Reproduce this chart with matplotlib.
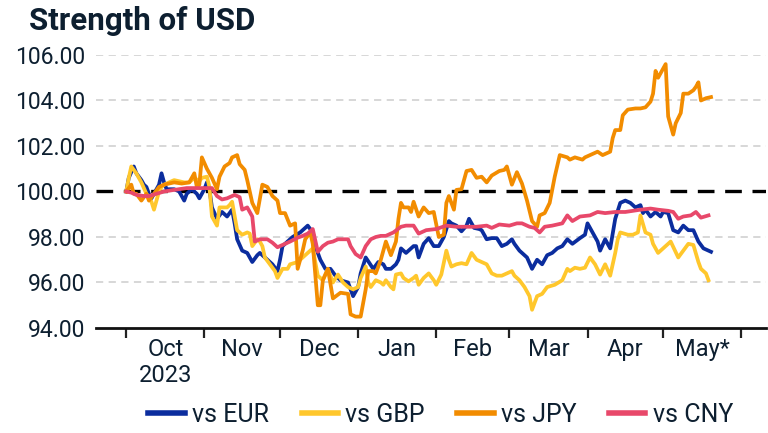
import matplotlib
matplotlib.use("Agg")
import matplotlib.pyplot as plt
import pandas as pd

plt.rcParams['font.family'] = ['Roboto', 'DejaVu Sans']

START = "2023-10-01"

# day offsets from START and index values (100 = start)
eur_days = [0, 1, 3, 4, 6, 7, 8, 9, 10, 11, 13, 14, 15, 16, 19, 21, 23, 24, 26, 28, 29, 31, 32, 33, 34, 36, 38, 40,
            42, 43, 44, 46, 48, 50, 52, 53, 55, 56, 58, 60, 61, 62, 64, 66, 69, 71, 72, 74, 75, 77, 79, 81, 83, 85,
            88, 90, 92, 93, 95, 98, 100, 102, 103, 105, 107, 108, 109, 111, 112, 114, 115, 116, 118, 120, 122, 124,
            126, 128, 129, 131, 133, 135, 136, 138, 140, 141, 143, 145, 147, 149, 151, 153, 154, 156, 159, 161, 163,
            165, 167, 169, 171, 173, 175, 177, 180, 182, 183, 185, 187, 188, 190, 192, 194, 196, 198, 200, 202, 204,
            205, 206, 208, 210, 212, 213, 215, 217, 219, 221, 223, 225, 227, 229, 232]
eur_vals = [100.0, 100.6, 101.1, 100.8, 100.5, 100.3, 100.2, 99.9, 99.7, 99.9, 100.3, 100.8, 100.4, 100.1, 100.1,
            100.0, 99.6, 99.9, 100.1, 99.9, 99.7, 100.1, 100.4, 100.1, 99.3, 98.8, 99.1, 98.9,
            99.2, 98.6, 97.9, 97.4, 97.3, 96.9, 97.2, 97.3, 97.1, 97.0, 96.8, 96.5, 97.0, 97.6, 97.8, 98.0, 98.2,
            98.4, 98.5, 98.2, 97.6, 97.0, 96.6, 96.6, 96.3, 96.1,
            96.0, 95.4, 95.8, 96.4, 97.1, 96.6, 96.9, 96.8, 96.6, 96.6, 96.8, 97.0, 97.5, 97.3, 97.4, 97.6, 97.6,
            97.1, 97.7, 97.95, 97.6, 97.6,
            98.0, 98.7, 98.6, 98.5, 98.25, 98.5, 98.8, 98.4, 98.35, 98.3, 97.9, 97.95, 97.95, 97.6, 97.7, 97.9, 97.7,
            97.4, 97.1, 96.6, 97.0,
            96.8, 97.2, 97.3, 97.5, 97.6, 97.9, 97.7, 97.95, 98.1, 98.6, 98.2, 97.8, 97.4, 97.9, 97.5, 98.8, 99.5,
            99.6, 99.5, 99.3, 99.4,
            99.05, 99.2, 98.9, 99.1, 98.9, 99.1, 99.05, 98.3, 98.2, 98.5, 98.3, 98.3, 97.8, 97.5, 97.35]

gbp_days = [0, 1, 2, 4, 6, 8, 10, 11, 13, 14, 15, 17, 19, 21, 23, 25, 26, 27, 29, 30, 32, 33, 34, 36, 37, 39, 40,
            41, 42, 44, 46, 48, 49, 50, 52, 53, 54, 55, 57, 59, 60, 62, 64, 65, 68, 70, 72, 73, 74, 76, 78, 80, 82,
            84, 86, 88, 90, 92, 93, 95, 96, 97, 99, 101, 102, 103, 105, 106, 107, 109, 110, 112, 114, 115, 116, 118,
            120, 122, 123, 125, 127, 128, 129, 131, 133, 135, 137, 139, 141, 143, 145, 147, 149, 151, 153, 154, 156,
            158, 160, 161, 163, 165, 167, 170, 173, 175, 176, 178, 180, 182, 184, 186, 188, 190, 192, 194, 195, 196,
            199, 201, 203, 204, 206, 208, 209, 211, 214, 216, 219, 221, 223, 225, 227, 228, 230, 231]
gbp_vals = [100.0, 100.6, 101.1, 100.8, 100.4, 99.9, 99.55, 99.2, 100.0, 100.2, 100.3, 100.4, 100.5, 100.45, 100.4,
            100.4, 100.5, 100.6, 100.45, 100.6, 100.65, 100.2, 98.9, 98.5, 99.3, 99.3, 99.3,
            99.4, 99.55, 98.3, 98.1, 98.2, 98.15, 97.6, 97.9, 97.8, 97.6, 97.1, 96.8, 96.5, 96.2, 96.6, 96.6, 96.8,
            96.9, 97.1, 97.3, 97.4, 97.5, 96.3, 96.1, 96.6, 96.0,
            96.35, 96.0, 95.8, 95.7, 95.8, 96.2, 96.7, 96.0, 95.8, 96.1, 96.0, 95.9, 96.1, 95.8, 95.7, 96.35, 96.4,
            96.2, 96.05, 96.2, 96.3, 95.9, 96.2,
            96.4, 96.1, 95.9, 96.35, 97.4, 97.0, 96.7, 96.8, 96.85, 96.8, 97.3, 97.0, 96.9, 96.8, 96.4, 96.3, 96.3,
            96.4, 96.5, 96.3, 96.1,
            95.8, 95.4, 94.8, 95.4, 95.5, 95.8, 95.9, 96.1, 96.6, 96.5, 96.65, 96.6, 96.65, 97.1, 96.8, 96.35, 96.8,
            96.3, 97.3, 97.9, 98.2,
            98.1, 98.1, 98.2, 98.95, 98.2, 98.1, 97.7, 97.3, 97.6, 97.8, 97.1, 97.4, 97.7, 97.65, 96.9, 96.6, 96.4,
            96.1]

jpy_days = [0, 2, 3, 4, 6, 8, 9, 11, 13, 15, 19, 22, 25, 27, 28, 29, 30, 32, 34, 36, 37, 39, 41, 42, 44, 45, 47,
            48, 50, 52, 54, 56, 58, 60, 61, 63, 65, 67, 68, 70, 71, 73, 74, 76, 77, 78, 80, 82, 85, 88, 89, 91, 93,
            95, 96, 98, 99, 101, 103, 105, 107, 108, 109, 110, 112, 113, 114, 116, 118, 120, 122, 124, 126, 127, 128,
            130, 131, 133, 135, 137, 139, 141, 143, 145, 148, 150, 151, 153, 155, 157, 159, 161, 163, 164, 166, 168,
            170, 172, 175, 176, 178, 181, 182, 184, 187, 189, 192, 193, 194, 196, 197, 199, 202, 204, 206, 208, 209,
            210, 211, 213, 214, 215, 217, 218, 220, 221, 223, 225, 226, 227, 228, 230, 232]
jpy_vals = [100.0, 100.3, 99.9, 99.9, 99.6, 99.9, 99.6, 99.9, 100.2, 100.3, 100.4, 100.35, 100.4, 100.8, 100.2,
            100.3, 101.5, 101.0, 100.6, 100.1, 100.65, 101.1, 101.25, 101.5, 101.6, 101.2, 100.95,
            100.5, 99.5, 99.05, 100.3, 100.2, 99.8, 99.6, 99.05, 99.05, 98.5, 98.6, 96.6, 97.4, 97.9, 98.2, 97.7,
            95.0, 95.0, 96.1, 96.6, 95.3, 95.55, 95.5, 94.6, 94.5, 94.5,
            95.7, 96.5, 96.5, 96.4, 97.0, 97.8, 97.2, 97.8, 98.8, 99.5, 99.3, 99.3, 99.1, 99.55, 98.9, 99.3, 99.05,
            99.1, 98.0, 98.1, 99.5, 99.8,
            99.2, 100.07, 100.1, 100.9, 100.95, 100.6, 100.65, 100.4, 100.7, 100.9, 100.95, 101.1, 100.3, 100.85,
            100.35, 99.6, 98.7, 98.45, 98.95, 99.05, 99.5,
            100.65, 101.6, 101.5, 101.4, 101.5, 101.4, 101.5, 101.6, 101.75, 101.6, 101.75, 102.35, 102.7, 102.7,
            103.35, 103.6, 103.65, 103.65, 103.7, 103.95, 104.3,
            105.3, 105.0, 105.4, 105.6, 103.3, 102.5, 103.0, 103.45, 104.3, 104.3, 104.45, 104.6, 104.8, 104.0,
            104.1, 104.15]

cny_days = [0, 2, 4, 7, 9, 12, 15, 19, 24, 29, 34, 36, 38, 40, 43, 45, 46, 48, 50, 51, 53, 56, 58, 60, 62, 65, 68,
            70, 72, 74, 76, 78, 80, 82, 84, 88, 89, 91, 93, 95, 97, 99, 101, 103, 106, 109, 111, 114, 116, 119, 123,
            127, 131, 135, 139, 143, 145, 148, 152, 155, 157, 160, 162, 164, 166, 169, 173, 175, 177, 180, 184, 187,
            190, 194, 198, 204, 208, 211, 215, 217, 219, 221, 224, 226, 228, 231]
cny_vals = [100.0, 99.95, 99.85, 99.8, 99.8, 99.9, 100.0, 100.07, 100.15, 100.15, 100.15, 99.8, 99.65, 99.7, 99.85,
            99.75, 99.2, 99.3, 98.9, 97.8, 97.9, 97.9, 97.75, 97.55, 97.65, 97.8, 97.97,
            98.05, 98.15, 98.35, 97.35, 97.6, 97.75, 97.8, 97.9, 97.9, 97.6, 97.25, 97.1, 97.6, 97.9, 98.0, 98.05,
            98.05, 98.2, 98.45, 98.5, 98.5, 98.15, 98.3, 98.35,
            98.5, 98.45, 98.45, 98.45, 98.5, 98.4, 98.55, 98.5, 98.6, 98.6, 98.45, 98.4, 98.2, 98.45, 98.5, 98.6,
            98.95, 98.7, 98.9, 98.95, 99.1,
            99.05, 99.1, 99.1, 99.2, 99.25, 99.2, 99.15, 99.1, 98.8, 98.9, 98.95, 99.1, 98.85, 98.95]

series_labels = ["vs EUR", "vs GBP", "vs JPY", "vs CNY"]
series_colors = ["#0b2d9e", "#ffc72c", "#f28c00", "#e8486a"]
month_labels = ["Oct\n2023", "Nov", "Dec", "Jan", "Feb", "Mar", "Apr", "May*"]
y_ticks = [94, 96, 98, 100, 102, 104, 106]
TEXT = "#0d1f30"


def to_dates(days):
    return pd.Timestamp(START) + pd.to_timedelta(days, unit="D")


fig = plt.figure(figsize=(7.68, 4.33), dpi=100)
ax = fig.add_axes([0.125, 0.2425, 0.873, 0.6305])

all_days = [eur_days, gbp_days, jpy_days, cny_days]
all_vals = [eur_vals, gbp_vals, jpy_vals, cny_vals]
for d, v, lab, col in zip(all_days, all_vals, series_labels, series_colors):
    ax.plot(to_dates(d), v, color=col, lw=2.7, label=lab, zorder=3, solid_joinstyle="round")

ax.axhline(100, color="black", lw=2.4, dashes=(5, 3.2), zorder=2)

ax.set_ylim(94, 106)
ax.set_xlim(pd.Timestamp("2023-09-19"), pd.Timestamp("2024-06-11"))
ax.set_yticks(y_ticks)
ax.set_yticklabels([f"{t:.2f}" for t in y_ticks])
for t in y_ticks:
    if t not in (94, 100):
        ax.axhline(t, color="#d4d4d4", lw=1.3, dashes=(4, 3), zorder=1)

month_starts = pd.date_range("2023-10-01", "2024-06-01", freq="MS")
mids = month_starts[:-1] + (month_starts[1:] - month_starts[:-1]) / 2
ax.set_xticks(month_starts)
ax.set_xticklabels([""] * len(month_starts))
ax.set_xticks(mids, minor=True)
ax.set_xticklabels(month_labels, minor=True)

ax.tick_params(axis="x", which="major", length=7, width=1.6, color="#222222", direction="out")
ax.tick_params(axis="x", which="minor", length=0, pad=7, labelsize=17, labelcolor=TEXT)
ax.tick_params(axis="y", length=0, pad=8, labelsize=16.5, labelcolor=TEXT)

for s in ["top", "right", "left"]:
    ax.spines[s].set_visible(False)
ax.spines["bottom"].set_linewidth(2)
ax.spines["bottom"].set_color("#111111")

fig.text(0.038, 0.93, "Strength of USD", fontsize=22.5, fontweight="bold", color=TEXT, va="baseline", ha="left")

leg = fig.legend(loc="center", bbox_to_anchor=(0.574, 0.042), ncol=4, frameon=False, fontsize=18,
                 handlelength=1.45, handletextpad=0.3, columnspacing=1.3, labelcolor=TEXT)
for h in leg.legend_handles:
    h.set_linewidth(4)

fig.savefig("out.png", dpi=100)
